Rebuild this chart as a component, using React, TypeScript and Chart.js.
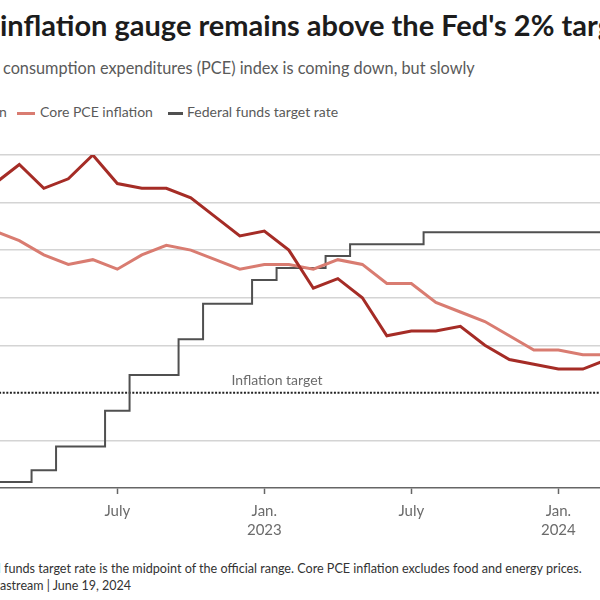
import React, { useEffect, useRef } from 'react';
import { Chart, registerables } from 'chart.js';

Chart.register(...registerables);

// Monthly observations, Jan 2022 .. May 2024 (index 0 = Jan 2022)
const months = [
  'Jan 2022', 'Feb 2022', 'Mar 2022', 'Apr 2022', 'May 2022', 'Jun 2022',
  'Jul 2022', 'Aug 2022', 'Sep 2022', 'Oct 2022', 'Nov 2022', 'Dec 2022',
  'Jan 2023', 'Feb 2023', 'Mar 2023', 'Apr 2023', 'May 2023', 'Jun 2023',
  'Jul 2023', 'Aug 2023', 'Sep 2023', 'Oct 2023', 'Nov 2023', 'Dec 2023',
  'Jan 2024', 'Feb 2024', 'Mar 2024', 'Apr 2024', 'May 2024',
];
const pceInflation = [
  6.0, 6.4, 6.8, 6.3, 6.5, 7.0, 6.4, 6.3, 6.3, 6.1, 5.7, 5.3,
  5.4, 5.0, 4.2, 4.4, 4.0, 3.2, 3.3, 3.3, 3.4, 3.0, 2.7, 2.6,
  2.5, 2.5, 2.7, 2.7, 2.6,
];
const corePceInflation = [
  5.2, 5.4, 5.2, 4.9, 4.7, 4.8, 4.6, 4.9, 5.1, 5.0, 4.8, 4.6,
  4.7, 4.7, 4.6, 4.8, 4.7, 4.3, 4.3, 3.9, 3.7, 3.5, 3.2, 2.9,
  2.9, 2.8, 2.8, 2.8, 2.6,
];
const fedFundsRate = [
  0.125, 0.125, 0.125, 0.375, 0.875, 0.875, 1.625, 2.375, 2.375, 3.125, 3.875, 3.875,
  4.375, 4.625, 4.625, 4.875, 5.125, 5.125, 5.125, 5.375, 5.375, 5.375, 5.375, 5.375,
  5.375, 5.375, 5.375, 5.375, 5.375,
];
const inflationTarget = 2;
const tickMonthIndex = [6, 12, 18, 24];
const tickLabels = [['July'], ['Jan.', '2023'], ['July'], ['Jan.', '2024']];
const visibleRange = [1.212, 25.7];

const FONT = 'Lato, "Source Sans Pro", "Noto Sans", sans-serif';

const toPoints = (arr: number[]) => arr.map((v, i) => ({ x: i, y: v }));

function Cut(props: { hidden: string; text: string; left: number; top: number; style?: any }) {
  const { hidden, text, left, top, style } = props;
  return (
    <div style={{ position: 'absolute', left, top, whiteSpace: 'nowrap', lineHeight: 1, ...style }}>
      <span style={{ position: 'absolute', right: '100%', top: 0 }}>{hidden}</span>
      {text}
    </div>
  );
}

export default function App() {
  const ref = useRef<HTMLCanvasElement | null>(null);

  useEffect(() => {
    if (!ref.current) return;
    const targetLabel = {
      id: 'targetLabel',
      afterDatasetsDraw(chart: any) {
        const { ctx, scales } = chart;
        ctx.save();
        ctx.font = `14px ${FONT}`;
        ctx.fillStyle = '#6b6b6b';
        ctx.textAlign = 'center';
        ctx.textBaseline = 'alphabetic';
        ctx.fillText('Inflation target', 277, scales.y.getPixelForValue(inflationTarget) - 8);
        ctx.restore();
      },
    };
    const chart = new Chart(ref.current, {
      type: 'line',
      data: {
        labels: months,
        datasets: [
          {
            label: 'PCE inflation',
            data: toPoints(pceInflation),
            borderColor: '#a52c26',
            borderWidth: 3,
            pointRadius: 0,
            tension: 0,
          },
          {
            label: 'Core PCE inflation',
            data: toPoints(corePceInflation),
            borderColor: '#d97c71',
            borderWidth: 3,
            pointRadius: 0,
            tension: 0,
          },
          {
            label: 'Federal funds target rate',
            data: toPoints(fedFundsRate),
            borderColor: '#505050',
            borderWidth: 2,
            pointRadius: 0,
            stepped: 'middle',
          },
          {
            label: 'Inflation target',
            data: [
              { x: 0, y: inflationTarget },
              { x: months.length - 1, y: inflationTarget },
            ],
            borderColor: '#222',
            borderWidth: 2,
            borderDash: [2, 1.6],
            pointRadius: 0,
          },
        ],
      } as any,
      options: {
        animation: false,
        responsive: false,
        maintainAspectRatio: false,
        layout: { padding: { top: 15, left: 0, right: 0, bottom: 0 } },
        plugins: { legend: { display: false }, tooltip: { enabled: false } },
        scales: {
          x: {
            type: 'linear',
            min: visibleRange[0],
            max: visibleRange[1],
            afterBuildTicks: (s: any) => {
              s.ticks = tickMonthIndex.map((v) => ({ value: v }));
            },
            afterFit: (s: any) => {
              s.height = 62;
            },
            ticks: {
              autoSkip: false,
              maxRotation: 0,
              padding: 7,
              color: '#6b6b6b',
              font: { family: FONT, size: 15, lineHeight: 1.3 },
              callback: (_v: any, i: number) => tickLabels[i],
            },
            grid: {
              drawOnChartArea: false,
              drawTicks: true,
              tickLength: 6,
              tickColor: '#666',
              tickWidth: 1.5,
            },
            border: { display: true, color: '#666', width: 1.5 },
          },
          y: {
            min: 0,
            max: 7,
            afterFit: (s: any) => {
              s.width = 0;
            },
            ticks: { display: false, stepSize: 1 },
            grid: {
              drawTicks: false,
              lineWidth: 1.5,
              color: (c: any) =>
                c.tick && (c.tick.value === inflationTarget || c.tick.value === 0) ? 'rgba(0,0,0,0)' : '#d4d4d4',
            },
            border: { display: false },
          },
        },
      } as any,
      plugins: [targetLabel],
    });
    return () => chart.destroy();
  }, []);

  return (
    <div
      style={{
        position: 'fixed',
        left: 0,
        top: 0,
        width: 600,
        height: 600,
        overflow: 'hidden',
        background: '#fff',
        fontFamily: FONT,
      }}
    >
      <Cut
        hidden={'Key\u00a0'}
        text="inflation gauge remains above the Fed's 2% target"
        left={0}
        top={10}
        style={{ fontSize: 29, fontWeight: 700, color: '#1c1c1c' }}
      />
      <Cut
        hidden={'The personal\u00a0'}
        text="consumption expenditures (PCE) index is coming down, but slowly"
        left={3}
        top={59.5}
        style={{ fontSize: 16.3, color: '#5a5a5a' }}
      />
      <Cut hidden="PCE inflatio" text="n" left={-1} top={105} style={{ fontSize: 14, color: '#5a5a5a' }} />
      <div style={{ position: 'absolute', left: 17, top: 111.5, width: 18, height: 3, background: '#d97c71' }} />
      <div style={{ position: 'absolute', left: 40, top: 105, fontSize: 14, lineHeight: 1, color: '#5a5a5a', whiteSpace: 'nowrap' }}>
        Core PCE inflation
      </div>
      <div style={{ position: 'absolute', left: 168, top: 112, width: 15, height: 2.5, background: '#505050' }} />
      <div style={{ position: 'absolute', left: 187, top: 105, fontSize: 14, lineHeight: 1, color: '#5a5a5a', whiteSpace: 'nowrap' }}>
        Federal funds target rate
      </div>
      <canvas
        ref={ref}
        width={600}
        height={410}
        style={{ position: 'absolute', left: 0, top: 140, width: 600, height: 410 }}
      />
      <Cut
        hidden={'Note: Federal\u00a0'}
        text="funds target rate is the midpoint of the official range. Core PCE inflation excludes food and energy prices."
        left={4}
        top={563}
        style={{ fontSize: 12.6, color: '#333' }}
      />
      <Cut
        hidden="Source: LSEG Dat"
        text="astream | June 19, 2024"
        left={0}
        top={580}
        style={{ fontSize: 12.5, color: '#333' }}
      />
    </div>
  );
}
